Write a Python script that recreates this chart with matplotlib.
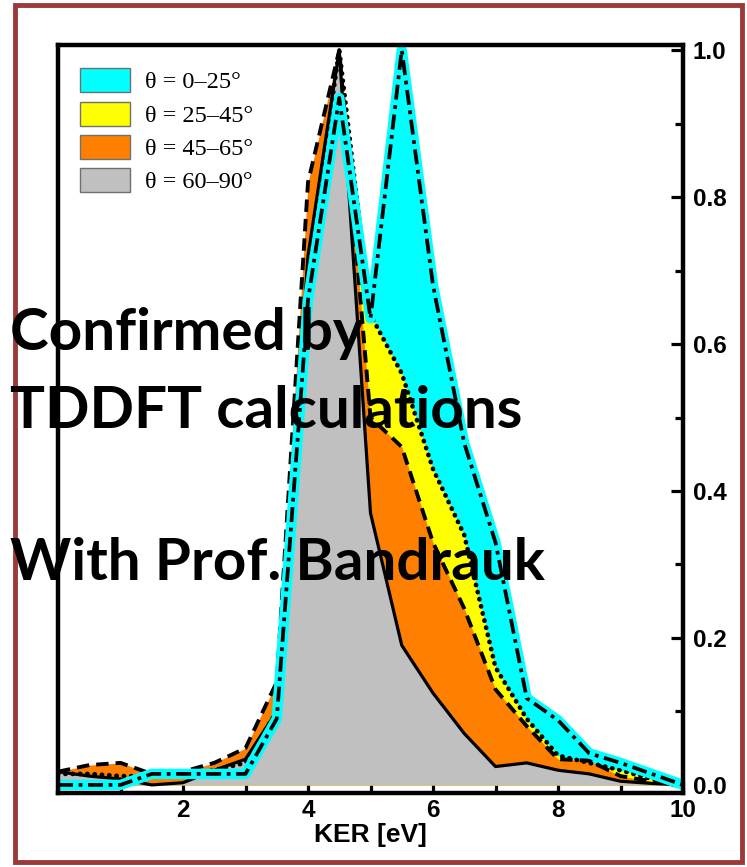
import matplotlib
matplotlib.use("Agg")
import matplotlib.pyplot as plt
from matplotlib.patches import Patch, Rectangle
from matplotlib.ticker import MultipleLocator, FormatStrFormatter

# KER 网格 (eV) 与各角度区间的归一化产额
ker = [0.0, 0.5, 1.0, 1.5, 2.0, 2.5, 3.0, 3.5, 4.0, 4.5, 5.0,
       5.5, 6.0, 6.5, 7.0, 7.5, 8.0, 8.5, 9.0, 9.5, 10.0]
theta_0_25 = [0.0, 0.0, 0.0, 0.015, 0.015, 0.015, 0.015, 0.09, 0.66, 0.935, 0.635,
              1.0, 0.68, 0.465, 0.33, 0.118, 0.088, 0.043, 0.03, 0.015, 0.0]
theta_25_45 = [0.015, 0.015, 0.012, 0.012, 0.015, 0.02, 0.03, 0.1, 0.7, 1.0, 0.64,
               0.56, 0.43, 0.34, 0.16, 0.09, 0.04, 0.03, 0.02, 0.008, 0.0]
theta_45_65 = [0.018, 0.027, 0.03, 0.015, 0.018, 0.03, 0.05, 0.14, 0.82, 1.0, 0.5,
               0.46, 0.33, 0.24, 0.13, 0.08, 0.035, 0.033, 0.012, 0.005, 0.0]
theta_60_90 = [0.018, 0.012, 0.008, 0.0, 0.003, 0.02, 0.035, 0.1, 0.72, 1.0, 0.37,
               0.19, 0.125, 0.07, 0.025, 0.03, 0.02, 0.015, 0.005, 0.002, 0.0]

labels = ["θ = 0–25°", "θ = 25–45°", "θ = 45–65°", "θ = 60–90°"]
colors = ["#00ffff", "#ffff00", "#ff8000", "#c0c0c0"]
x_ticks = [2, 4, 6, 8, 10]

W, H = 747, 867
fig = plt.figure(figsize=(W / 100, H / 100), dpi=100)
ax = fig.add_axes([58 / W, 1 - 793 / H, (683 - 58) / W, (793 - 45) / H])

# 填充：后画的盖住先画的
series = [theta_0_25, theta_25_45, theta_45_65, theta_60_90]
for i, (y, c) in enumerate(zip(series, colors)):
    ax.fill_between(ker, y, 0, color=c, lw=0, zorder=1 + i)

# 曲线
ax.plot(ker, theta_60_90, color="k", lw=2.3, zorder=6)
ax.plot(ker, theta_45_65, color="k", lw=2.8, ls=(0, (3.2, 1.8)), zorder=7)
ax.plot(ker, theta_25_45, color="k", lw=3.4, ls=(0, (0.05, 1.5)),
        dash_capstyle="round", zorder=8)
ax.plot(ker, theta_0_25, color="#00ffff", lw=7.5, zorder=9,
        solid_joinstyle="round", solid_capstyle="round")
ax.plot(ker, theta_0_25, color="k", lw=2.7, ls=(0, (4.0, 1.5, 1.0, 1.5)), zorder=10)

ax.set_xlim(0, 10)
ax.set_ylim(-0.011, 1.007)

for s in ax.spines.values():
    s.set_linewidth(3.2)
    s.set_zorder(20)

ax.yaxis.tick_right()
ax.set_xticks(x_ticks)
ax.xaxis.set_minor_locator(MultipleLocator(1))
ax.yaxis.set_major_locator(MultipleLocator(0.2))
ax.yaxis.set_minor_locator(MultipleLocator(0.1))
ax.yaxis.set_major_formatter(FormatStrFormatter("%.1f"))
ax.tick_params(which="major", direction="in", length=9, width=2.3)
ax.tick_params(which="minor", direction="in", length=6, width=2.3)
ax.tick_params(axis="x", which="both", top=False, pad=4)
ax.tick_params(axis="y", which="both", left=False, right=True, pad=7)
for lab in ax.get_xticklabels() + ax.get_yticklabels():
    lab.set_fontfamily("Liberation Sans")
    lab.set_fontweight("bold")
    lab.set_fontsize(17.5)

ax.set_xlabel("KER [eV]", fontfamily="Liberation Sans", fontweight="bold",
              fontsize=19, labelpad=1)

handles = [Patch(facecolor=c, edgecolor="#707070", lw=1.0) for c in colors]
ax.legend(handles, labels, loc="upper left", bbox_to_anchor=(0.035, 0.969),
          frameon=False, borderpad=0, borderaxespad=0,
          prop={"family": "Liberation Serif", "size": 17.5},
          handlelength=2.05, handleheight=1.15, labelspacing=0.33,
          handletextpad=0.62)

# 叠加的说明文字
txt_kw = dict(fontfamily="Lato", fontweight="bold", fontsize=42, color="k",
              va="baseline", ha="left", zorder=30)
fig.text(10 / W, 1 - 350 / H, "Confirmed by", **txt_kw)
fig.text(10 / W, 1 - 428 / H, "TDDFT calculations", **txt_kw)
fig.text(10 / W, 1 - 580 / H, "With Prof. Bandrauk", **txt_kw)

# 外框
fig.patches.append(Rectangle((15 / W, 5 / H), (742 - 15) / W, (862 - 5) / H,
                             transform=fig.transFigure, fill=False,
                             ec="#9c3a3a", lw=3.5))

fig.savefig("out.png", dpi=100)
